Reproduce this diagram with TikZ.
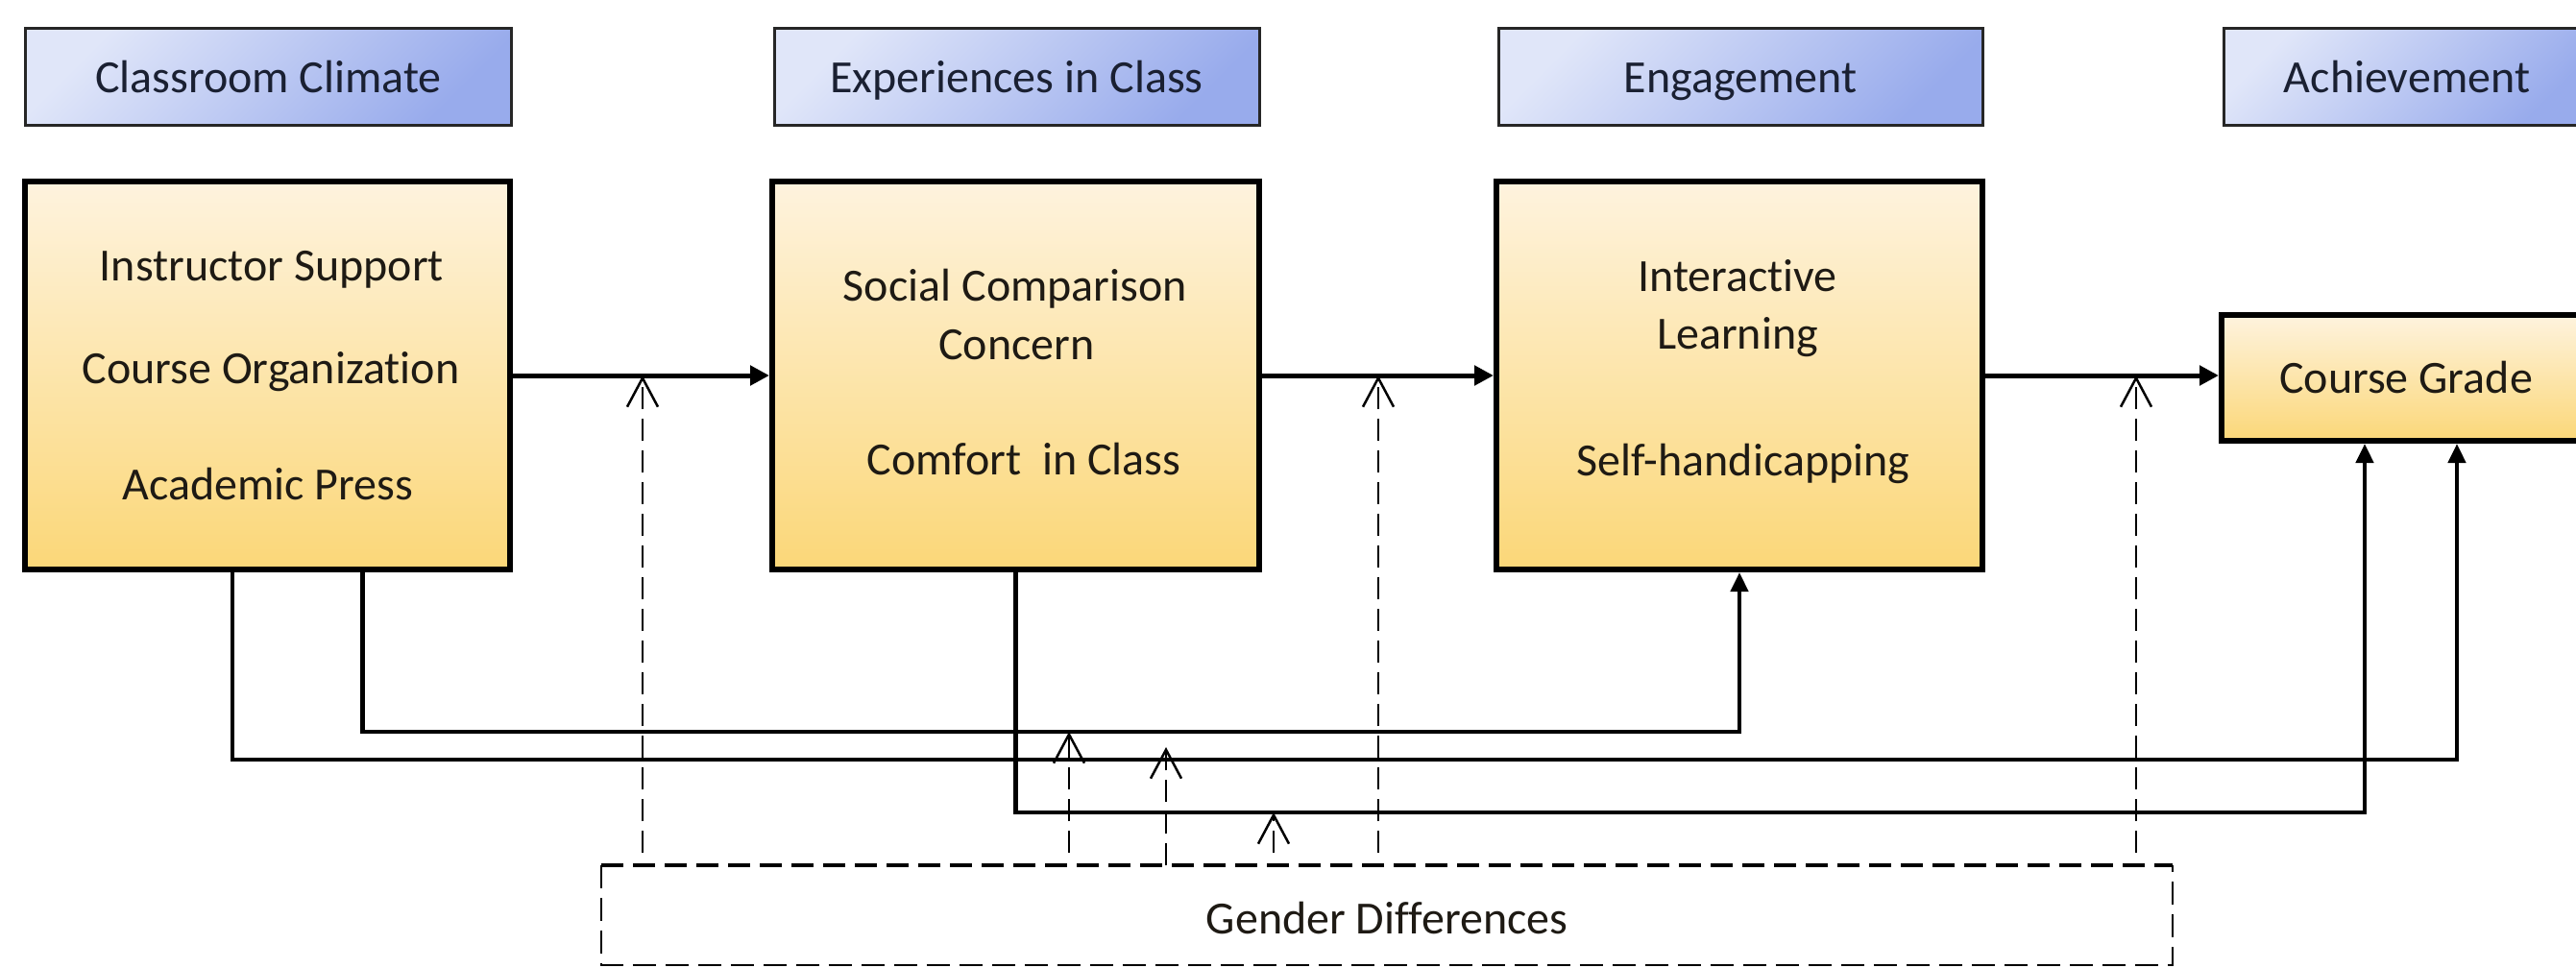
\documentclass[tikz,border=0pt]{standalone}
\usepackage{fontspec}
\setmainfont{Carlito}[Ligatures=NoCommon]
\usetikzlibrary{arrows.meta}

\definecolor{hdrlight}{RGB}{224,230,249}
\definecolor{hdrdark}{RGB}{152,171,236}
\definecolor{boxtop}{RGB}{254,243,222}
\definecolor{boxbot}{RGB}{251,215,120}
\definecolor{ink}{RGB}{30,26,20}
\definecolor{hdrink}{RGB}{26,32,50}

\begin{document}
\begin{tikzpicture}[x=1mm, y=-1mm,
  font=\fontsize{13.66pt}{16pt}\selectfont,
  header/.style={draw=black!85, line width=0.3mm,
    top color=hdrlight, bottom color=hdrdark, shading angle=45,
    minimum height=10.1mm, inner sep=0pt, text=hdrink,
    text height=3.4mm, text depth=0pt},
  stage/.style={draw=black, line width=0.6mm,
    top color=boxtop, bottom color=boxbot, inner sep=0pt},
  txt/.style={anchor=base, text=ink, inner sep=0pt},
  mainarrow/.style={draw=black, line width=0.5mm,
    -{Triangle[length=2mm,width=2mm]}},
  link/.style={draw=black, line width=0.45mm,
    -{Triangle[length=2mm,width=1.8mm]}},
  modline/.style={draw=black, line width=0.25mm,
    dash pattern=on 2.3mm off 1mm,
    -{Straight Barb[length=3mm,width=3.2mm]}},
  groupside/.style={draw=black, line width=0.2mm, dash pattern=on 2.4mm off 1mm},
  grouptop/.style={draw=black, line width=0.4mm, dash pattern=on 2.3mm off 1mm},
]

% canvas
\fill[white] (0,0) rectangle (268.2,100.7);
\useasboundingbox (0,0) rectangle (268.2,100.7);

% column headers
\node[header, minimum width=50.5mm] (h1) at (27.95,7.95) {Classroom Climate};
\node[header, minimum width=50.5mm] (h2) at (105.85,7.95) {Experiences in Class};
\node[header, minimum width=50.4mm] (h3) at (181.2,7.95) {Engagement};
\node[header, minimum width=38.2mm] (h4) at (250.6,7.95) {Achievement};

% stage boxes
\node[stage, minimum width=50.5mm, minimum height=40.4mm] (b1) at (27.85,39.1) {};
\node[stage, minimum width=50.7mm, minimum height=40.4mm] (b2) at (105.75,39.1) {};
\node[stage, minimum width=50.6mm, minimum height=40.4mm] (b3) at (181.1,39.1) {};
\node[stage, minimum width=38.4mm, minimum height=13.1mm, text=ink,
      text height=3.1mm, text depth=0pt] (cg) at (250.5,39.35) {Course Grade};

% box contents
\node[txt] (t11) at (28.3,29.2) {Instructor Support};
\node[txt] (t12) at (28.2,39.9) {Course Organization};
\node[txt] (t13) at (27.9,52.0) {Academic Press};
\node[txt] (t21) at (105.7,31.3) {Social Comparison};
\node[txt] (t22) at (105.85,37.4) {Concern};
\node[txt] (t23) at (106.6,49.4) {Comfort\ \ in Class};
\node[txt] (t31) at (180.9,30.3) {Interactive};
\node[txt] (t32) at (180.9,36.3) {Learning};
\node[txt] (t33) at (181.5,49.5) {Self-handicapping};

% moderator box
\node[inner sep=0pt, minimum width=163.4mm, minimum height=10.2mm, text=ink,
      text height=3.8mm, text depth=0pt] (gd) at (144.4,95.3) {Gender Differences};
\draw[groupside] (gd.north west) -- (gd.south west) -- (gd.south east) -- (gd.north east);
\draw[grouptop] (gd.north west) -- (gd.north east);

% main sequence
\draw[mainarrow] (b1.east) -- (b2.west);
\draw[mainarrow] (b2.east) -- (b3.west);
\draw[mainarrow] (b3.east) -- (b3.east -| cg.west);

% direct paths below the boxes
\coordinate (r1) at (37.75,76.2);
\coordinate (r2) at (24.2,79.1);
\coordinate (r3) at (105.75,84.6);
\draw[link] (b1.south -| r1) -- (r1) -| (b3.south);
\draw[link] (b1.south -| r2) -- (r2) -| ([xshift=5.3mm]cg.south);
\draw[link] (b2.south) -- (r3) -| ([xshift=-4.3mm]cg.south);

% moderation of the main sequence
\coordinate (m1) at (66.9,88.8);
\coordinate (m2) at (143.5,88.8);
\coordinate (m3) at (222.4,88.8);
\draw[modline] (m1) -- (m1 |- b1.east);
\draw[modline] (m2) -- (m2 |- b2.east);
\draw[modline] (m3) -- (m3 |- b3.east);

% moderation of the direct paths
\coordinate (n1) at (111.3,88.8);
\coordinate (n2) at (121.4,77.8);
\coordinate (n3) at (132.6,88.8);
\draw[modline] (n1) -- (n1 |- r1);
\draw[modline] (gd.north -| n2) -- (n2);
\draw[modline] (n3) -- (n3 |- r3);

\end{tikzpicture}
\end{document}
